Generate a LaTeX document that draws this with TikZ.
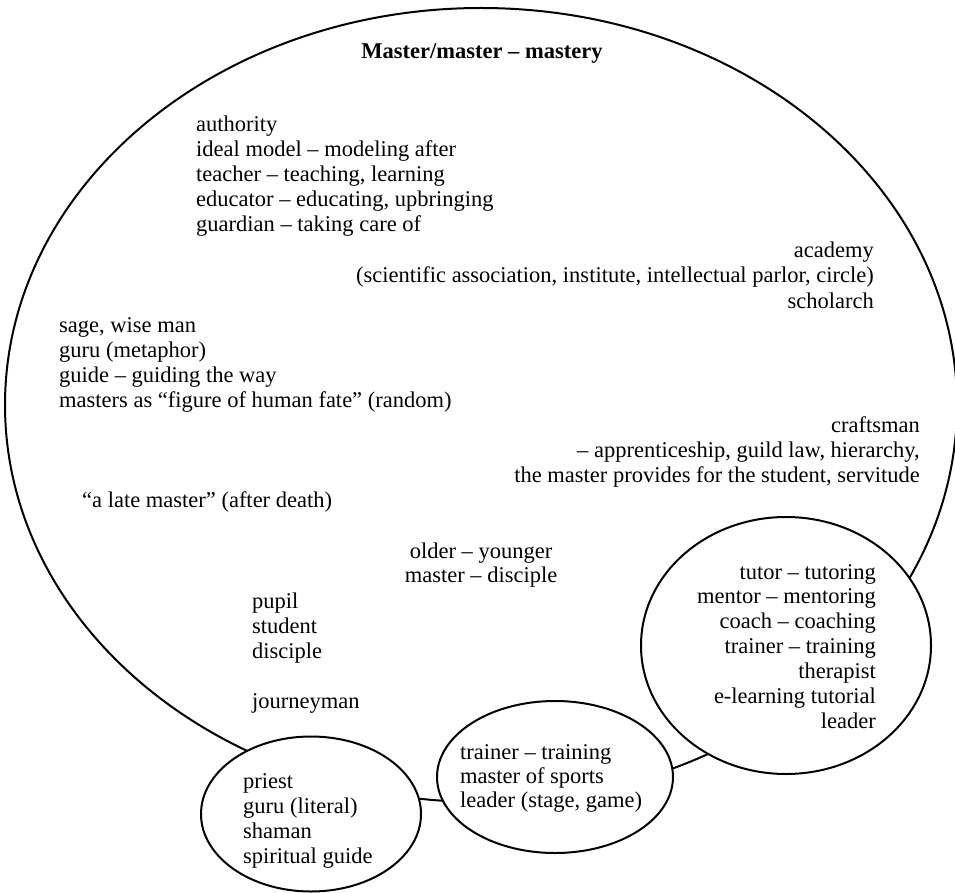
\documentclass[tikz,border=0pt]{standalone}
\usepackage{fontspec}
\setmainfont{Liberation Serif}
\usetikzlibrary{shapes.geometric}
\begin{document}
\begin{tikzpicture}[x=1pt,y=-1pt,
  ring/.style={draw=black, line width=2pt, ellipse, fill=white, inner sep=0pt, outer sep=0pt},
  txt/.style={inner sep=0pt, font=\fontsize{22.5}{25}\selectfont},
  lft/.style={txt, anchor=base west},
  rgt/.style={txt, anchor=base east},
  ctr/.style={txt, anchor=base}]
\useasboundingbox (0,0) rectangle (955,893);
\clip (0,0) rectangle (955,893);
% outer ellipse and the three small circles
\node[ring, minimum width=952pt, minimum height=794pt] (master) at (481,405) {};
\node[ring, minimum width=290pt, minimum height=257pt] (tutorc) at (786,645.5) {};
\node[ring, minimum width=236pt, minimum height=152pt] (trainc) at (555,777) {};
\node[ring, minimum width=220pt, minimum height=155pt] (priestc) at (311,814) {};
% title
\node[ctr, font=\fontsize{22.5}{25}\selectfont\bfseries] (title) at (482,59) {Master/master – mastery};
% blocks
\foreach \t [count=\i] in {authority, ideal model – modeling after, {teacher – teaching, learning}, {educator – educating, upbringing}, guardian – taking care of}
  \node[lft] (a\i) at (196,{132+25*(\i-1)}) {\t};
\foreach \t [count=\i] in {academy, {(scientific association, institute, intellectual parlor, circle)}, scholarch}
  \node[rgt] (b\i) at (874,{258+25*(\i-1)}) {\t};
\foreach \t [count=\i] in {{sage, wise man}, guru (metaphor), guide – guiding the way, masters as “figure of human fate” (random)}
  \node[lft] (c\i) at (59,{332+25*(\i-1)}) {\t};
\foreach \t [count=\i] in {craftsman, {– apprenticeship, guild law, hierarchy,}, {the master provides for the student, servitude}}
  \node[rgt] (d\i) at (920,{432+25*(\i-1)}) {\t};
\node[lft] (late) at (82,507) {“a late master” (after death)};
\node[ctr] (e1) at (481,558) {older – younger};
\node[ctr] (e2) at (481,582) {master – disciple};
\foreach \t [count=\i] in {pupil, student, disciple}
  \node[lft] (f\i) at (252,{608+25*(\i-1)}) {\t};
\node[lft] (f4) at (252,708) {journeyman};
\foreach \t [count=\i] in {tutor – tutoring, mentor – mentoring, coach – coaching, trainer – training, therapist, e-learning tutorial, leader}
  \node[rgt] (g\i) at (876,{579+24.9*(\i-1)}) {\t};
\foreach \t [count=\i] in {trainer – training, master of sports, {leader (stage, game)}}
  \node[lft] (h\i) at (460,{759+24.3*(\i-1)}) {\t};
\foreach \t [count=\i] in {priest, guru (literal), shaman, spiritual guide}
  \node[lft] (p\i) at (243,{788+25*(\i-1)}) {\t};
\end{tikzpicture}
\end{document}
